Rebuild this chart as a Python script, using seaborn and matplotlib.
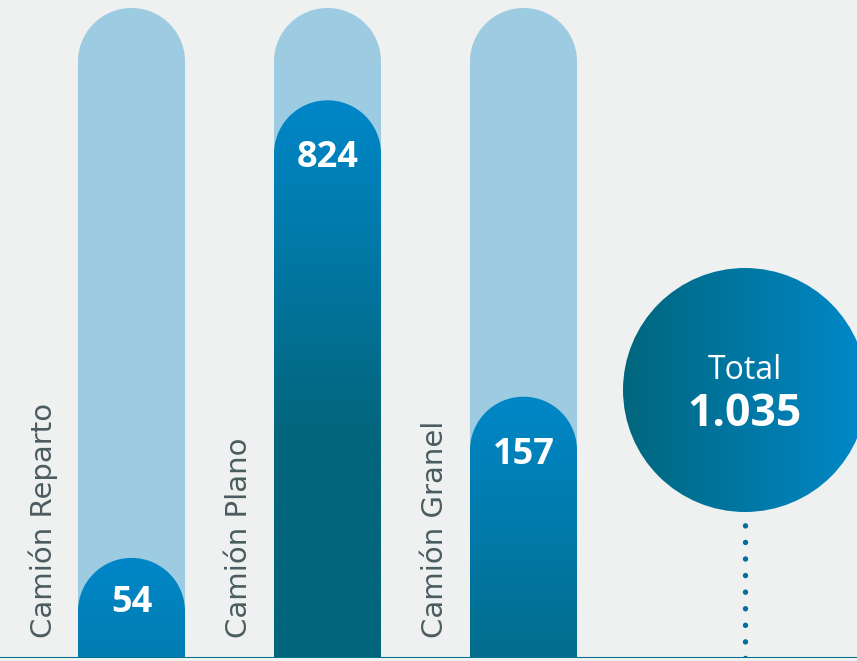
import numpy as np
import pandas as pd
import matplotlib
matplotlib.use('Agg')
import matplotlib.pyplot as plt
import seaborn as sns
from matplotlib.path import Path
from matplotlib.patches import PathPatch, Ellipse
from matplotlib.colors import to_rgb

# data
categorias = ['Camión Reparto', 'Camión Plano', 'Camión Granel']
valores = [54, 824, 157]
etiquetas = ['54', '824', '157']
# alto visual de cada barra (% del carril), tal como en la infografía
altura_visual = [15.4, 85.8, 40.2]
total_label = '1.035'

fondo = '#eff0f0'
carril = '#9dcbe2'
azul = '#0087c8'
teal = '#03657b'
gris = '#4b5c61'

sns.set_theme(style='white')
plt.rcParams['font.family'] = ['Open Sans', 'DejaVu Sans']

fig = plt.figure(figsize=(8.57, 6.61), dpi=100, facecolor=fondo)
ax = fig.add_axes([0, 3 / 661, 1, 658 / 661])
ax.set_facecolor(fondo)

df = pd.DataFrame({'cat': categorias, 'alto': altura_visual, 'carril': [100] * 3})
sns.barplot(data=df, x='cat', y='carril', color=carril, width=0.546, ax=ax)
n_track = len(ax.patches)
sns.barplot(data=df, x='cat', y='alto', color=azul, width=0.546, ax=ax)

px_x = 196.0   # pixels per x unit
px_y = 6.5     # pixels per y unit
xlim = (-131.5 / px_x, (857 - 131.5) / px_x)
ylim = (0, 658 / px_y)


def pill(x0, w, top):
    rx = w / 2
    ry = rx * px_x / px_y
    cx = x0 + rx
    th = np.linspace(np.pi, 0, 60)
    verts = [(x0, 0), (x0, top - ry)]
    verts += list(zip(cx + rx * np.cos(th), top - ry + ry * np.sin(th)))
    verts += [(x0 + w, 0), (x0, 0)]
    codes = [Path.MOVETO] + [Path.LINETO] * (len(verts) - 2) + [Path.CLOSEPOLY]
    return Path(verts, codes)


c_top = np.array(to_rgb(azul))
c_bot = np.array(to_rgb(teal))

for i, p in enumerate(list(ax.patches)):
    x0, w, h = p.get_x(), p.get_width(), p.get_height()
    p.set_visible(False)
    path = pill(x0, w, h)
    if i < n_track:
        ax.add_patch(PathPatch(path, facecolor=carril, edgecolor='none', zorder=1))
        continue
    patch = PathPatch(path, facecolor='none', edgecolor='none', zorder=2)
    ax.add_patch(patch)
    ys = np.linspace(h, 0, 400)
    t = np.clip((h - ys) / 52.0, 0, 1)[:, None]
    grad = (c_top * (1 - t) + c_bot * t)[:, None, :]
    im = ax.imshow(grad, extent=(x0, x0 + w, 0, h), aspect='auto',
                   interpolation='bilinear', zorder=2)
    im.set_clip_path(patch)
    k = i - n_track
    ax.text(x0 + w / 2, max(h - 8.9, h * 0.55), etiquetas[k], ha='center', va='center',
            color='white', fontsize=26, fontweight='bold', zorder=3)
    ax.text(x0 + w / 2 - 0.452, 3.1, categorias[k], rotation=90,
            ha='center', va='bottom', color=gris, fontsize=21,
            family='DejaVu Sans', zorder=3)

# total circle with horizontal gradient
cx, cy = (745 - 131.5) / px_x, (658 - 390) / px_y
rxc, ryc = 122 / px_x, 122 / px_y
circ = Ellipse((cx, cy), 2 * rxc, 2 * ryc, facecolor='none', edgecolor='none', zorder=2)
ax.add_patch(circ)
t = np.linspace(0, 1, 300)[None, :, None]
grad = np.array(to_rgb('#00667d')) * (1 - t) + np.array(to_rgb('#0089ca')) * t
im = ax.imshow(grad, extent=(cx - rxc, cx + rxc, cy - ryc, cy + ryc), aspect='auto',
               interpolation='bilinear', zorder=2)
im.set_clip_path(circ)
ax.text(cx, cy + 3.0, 'Total', ha='center', va='center', color='white',
        fontsize=23, zorder=3)
ax.text(cx, cy - 3.7, total_label, ha='center', va='center', color='white',
        fontsize=32, fontweight='bold', zorder=3)

# dotted connector (drawn from the base up so a dot sits on the line) and base line
ax.plot([cx, cx], [0, cy - ryc - 1.5], color='#006f9c', lw=3.9,
        ls=(0, (0.01, 3.05)), dash_capstyle='round', solid_capstyle='round', zorder=2)
ax.axhline(0, color='#00728f', lw=2.2, zorder=4)

ax.set_xlim(*xlim)
ax.set_ylim(*ylim)
ax.axis('off')
fig.savefig('out.png', dpi=100, facecolor=fondo)
